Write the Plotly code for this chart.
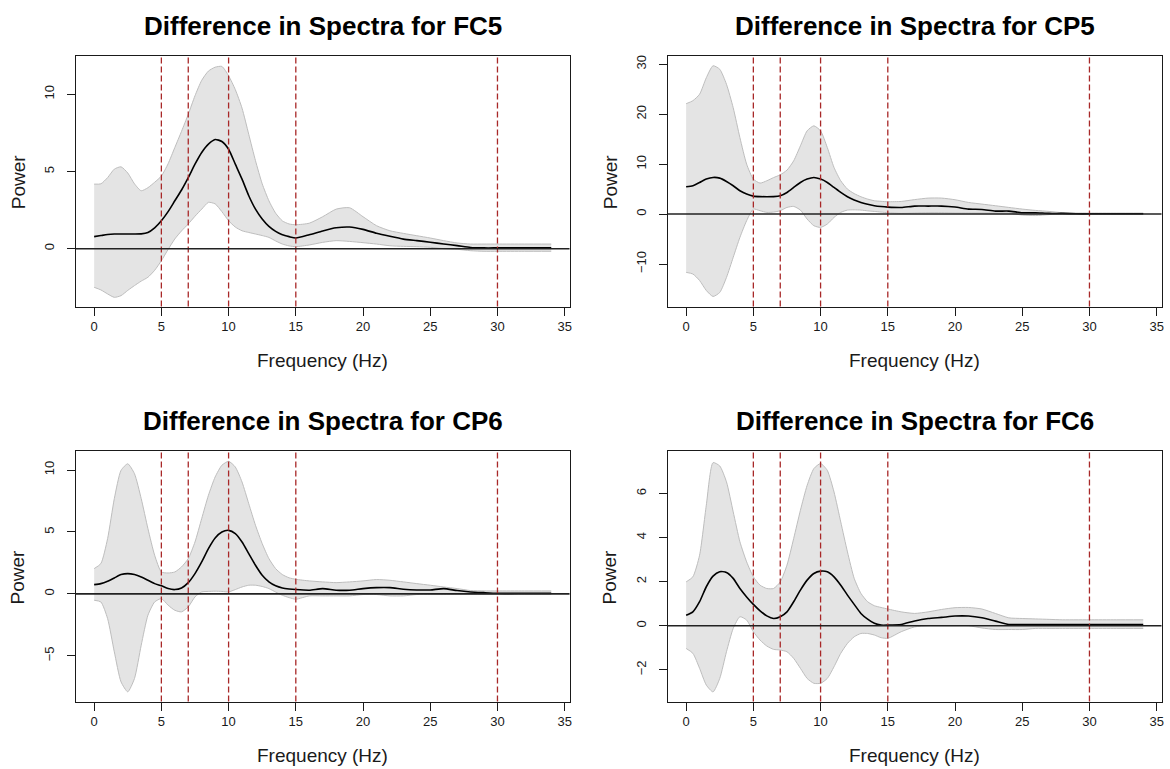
import plotly.graph_objects as go

# Frequency grid (Hz) shared by all channels
FREQ = [0, 0.5, 1, 1.5, 2, 2.5, 3, 3.5, 4, 4.5,
        5, 5.5, 6, 6.5, 7, 7.5, 8, 8.5, 9, 9.5,
        10, 10.5, 11, 11.5, 12, 12.5, 13, 13.5, 14, 14.5,
        15, 16, 17, 18, 19, 20, 21, 22, 23, 24,
        25, 26, 27, 28, 29, 30, 32, 34]

# ---- FC5 ----
FC5_MEAN = [0.78, 0.85, 0.92, 0.95, 0.95, 0.95, 0.95, 0.96, 1.05, 1.35,
            1.81, 2.4, 3.1, 3.8, 4.6, 5.47, 6.23, 6.77, 7.07, 6.94,
            6.44, 5.47, 4.5, 3.43, 2.56, 1.92, 1.44, 1.12, 0.9, 0.78,
            0.69, 0.9, 1.15, 1.35, 1.4, 1.25, 1.0, 0.8, 0.62, 0.52,
            0.42, 0.3, 0.2, 0.08, 0.05, 0.05, 0.05, 0.05]
FC5_UPPER = [4.18, 4.2, 4.6, 5.15, 5.3, 4.9, 4.2, 3.75, 3.95, 4.3,
             4.7, 5.5, 6.55, 7.6, 8.7, 9.9, 10.9, 11.5, 11.75, 11.8,
             11.2, 10.3, 9.1, 7.4, 5.7, 4.2, 3.1, 2.3, 1.8, 1.6,
             1.55, 1.65, 2.07, 2.56, 2.65, 2.07, 1.49, 1.16, 0.99, 0.84,
             0.69, 0.52, 0.37, 0.3, 0.3, 0.3, 0.3, 0.3]
FC5_LOWER = [-2.5, -2.67, -2.93, -3.15, -3.04, -2.7, -2.39, -2.1, -1.85, -1.4,
             -0.78, -0.05, 0.63, 1.15, 1.6, 2.1, 2.56, 3.0, 2.9, 2.4,
             1.81, 1.4, 1.16, 1.05, 0.95, 0.85, 0.73, 0.5, 0.3, 0.18,
             0.13, 0.24, 0.41, 0.52, 0.47, 0.39, 0.3, 0.19, 0.15, 0.13,
             0.09, 0.0, -0.04, -0.13, -0.17, -0.17, -0.17, -0.17]

# ---- CP5 ----
CP5_MEAN = [5.47, 5.67, 6.33, 7.0, 7.33, 7.2, 6.53, 5.67, 4.67, 4.0,
            3.6, 3.5, 3.47, 3.5, 3.67, 4.33, 5.33, 6.33, 7.0, 7.33,
            7.0, 6.33, 5.33, 4.33, 3.47, 2.8, 2.33, 1.95, 1.67, 1.5,
            1.4, 1.33, 1.6, 1.6, 1.6, 1.4, 1.0, 0.93, 0.6, 0.6,
            0.27, 0.27, 0.13, 0.13, 0.05, 0.05, 0.05, 0.05]
CP5_UPPER = [22.1, 22.7, 24.0, 27.3, 29.7, 29.0, 26.0, 21.3, 15.3, 10.0,
             7.0, 6.2, 6.67, 7.3, 7.87, 8.8, 10.67, 13.67, 16.67, 17.67,
             16.67, 13.33, 9.33, 6.67, 5.0, 4.1, 3.47, 3.0, 2.67, 2.55,
             2.47, 2.53, 2.9, 3.2, 3.2, 2.87, 2.33, 2.0, 1.67, 1.33,
             1.0, 0.73, 0.53, 0.27, 0.2, 0.2, 0.2, 0.2]
CP5_LOWER = [-11.67, -12.0, -13.3, -15.3, -16.5, -15.7, -12.7, -8.67, -4.67, -1.33,
             1.0, 0.67, 0.33, 0.4, 0.67, 1.33, 1.53, 0.8, -1.0, -2.33,
             -2.67, -2.0, -0.67, 0.33, 0.8, 0.85, 0.8, 0.65, 0.53, 0.4,
             0.27, 0.13, 0.2, 0.27, 0.27, 0.2, 0.2, 0.2, 0.2, 0.2,
             -0.2, -0.3, -0.1, 0.0, 0.0, 0.0, 0.0, 0.0]

# ---- CP6 ----
CP6_MEAN = [0.75, 0.83, 1.02, 1.29, 1.56, 1.64, 1.56, 1.37, 1.1, 0.83,
            0.65, 0.43, 0.35, 0.48, 0.91, 1.64, 2.58, 3.66, 4.52, 5.0,
            5.13, 4.87, 4.19, 3.25, 2.31, 1.5, 0.97, 0.65, 0.48, 0.4,
            0.35, 0.3, 0.43, 0.3, 0.3, 0.43, 0.51, 0.51, 0.38, 0.32,
            0.32, 0.43, 0.27, 0.16, 0.1, 0.05, 0.05, 0.05]
CP6_UPPER = [2.04, 2.45, 4.46, 7.69, 9.97, 10.5, 9.7, 7.69, 5.27, 3.12,
             1.77, 1.69, 1.77, 2.18, 2.85, 4.19, 6.08, 7.96, 9.44, 10.38,
             10.7, 10.24, 9.03, 7.28, 5.54, 4.06, 2.85, 2.04, 1.56, 1.3,
             1.18, 1.05, 0.97, 0.91, 0.97, 1.05, 1.16, 1.1, 0.97, 0.83,
             0.7, 0.56, 0.43, 0.27, 0.24, 0.24, 0.24, 0.24]
CP6_LOWER = [-0.51, -0.65, -1.99, -4.68, -7.1, -7.9, -6.83, -4.14, -1.72, -0.65,
             -0.38, -0.91, -1.32, -1.45, -1.05, -0.24, 0.16, 0.2, 0.22, 0.2,
             0.16, 0.35, 0.56, 0.7, 0.7, 0.6, 0.43, 0.15, -0.11, -0.3,
             -0.43, -0.16, -0.16, -0.16, -0.16, -0.05, -0.05, -0.16, -0.16, -0.05,
             -0.05, -0.05, -0.03, -0.03, -0.03, -0.03, -0.03, -0.03]

# ---- FC6 ----
FC6_MEAN = [0.48, 0.63, 1.09, 1.77, 2.25, 2.45, 2.42, 2.15, 1.69, 1.31,
            0.97, 0.68, 0.45, 0.33, 0.41, 0.63, 1.09, 1.62, 2.07, 2.37,
            2.48, 2.45, 2.22, 1.84, 1.39, 0.97, 0.56, 0.3, 0.11, 0.03,
            0.03, 0.06, 0.22, 0.33, 0.38, 0.44, 0.44, 0.36, 0.21, 0.06,
            0.06, 0.06, 0.06, 0.06, 0.06, 0.06, 0.06, 0.06]
FC6_UPPER = [1.99, 2.22, 3.2, 5.47, 7.4, 7.25, 6.53, 5.17, 3.81, 2.9,
             2.22, 1.84, 1.69, 1.69, 1.99, 2.75, 3.96, 5.24, 6.37, 7.13,
             7.36, 7.05, 6.07, 4.71, 3.35, 2.15, 1.47, 1.09, 0.91, 0.83,
             0.76, 0.63, 0.56, 0.63, 0.74, 0.82, 0.83, 0.76, 0.56, 0.36,
             0.33, 0.31, 0.29, 0.27, 0.27, 0.27, 0.27, 0.27]
FC6_LOWER = [-1.03, -1.25, -1.93, -2.69, -3.0, -2.39, -1.18, -0.12, 0.41, 0.26,
             -0.27, -0.65, -0.92, -1.07, -1.1, -1.18, -1.48, -1.93, -2.39, -2.61,
             -2.61, -2.39, -1.86, -1.25, -0.8, -0.5, -0.35, -0.35, -0.42, -0.54,
             -0.57, -0.27, -0.05, 0.0, 0.0, 0.0, 0.0, -0.1, -0.17, -0.17,
             -0.17, -0.12, -0.12, -0.12, -0.12, -0.12, -0.12, -0.12]

CHANNELS = ["FC5", "CP5", "CP6", "FC6"]
MEANS = [FC5_MEAN, CP5_MEAN, CP6_MEAN, FC6_MEAN]
UPPERS = [FC5_UPPER, CP5_UPPER, CP6_UPPER, FC6_UPPER]
LOWERS = [FC5_LOWER, CP5_LOWER, CP6_LOWER, FC6_LOWER]

# Frequency band boundaries marked on each panel
BAND_EDGES = [5, 7, 10, 15, 30]
X_TICKS = [0, 5, 10, 15, 20, 25, 30, 35]
Y_TICKS = [[0, 5, 10], [-10, 0, 10, 20, 30], [-5, 0, 5, 10], [-2, 0, 2, 4, 6]]
Y_RANGES = [[-3.75, 12.48], [-18.53, 31.67], [-8.69, 11.5], [-3.44, 7.91]]
X_RANGE = [-1.36, 35.36]

W, H = 1170, 769
# plot boxes in pixels: (left, right, top, bottom)
BOXES = [(76, 570.5, 55, 306), (669, 1163.5, 55, 306),
         (76, 570.5, 451, 701.5), (669, 1163.5, 451, 701.5)]

FONT = "Liberation Sans, Arial, sans-serif"
INK = "#1a1a1a"
BAND_FILL = "#E4E4E4"
BAND_EDGE = "#BDBDBD"
DASH_RED = "#A82828"

fig = go.Figure()
shapes = []
annotations = []

for i, ch in enumerate(CHANNELS):
    n = i + 1
    xa = "x" if n == 1 else f"x{n}"
    ya = "y" if n == 1 else f"y{n}"
    # upper edge of the interval
    fig.add_trace(go.Scatter(
        x=FREQ, y=UPPERS[i], mode="lines", xaxis=xa, yaxis=ya,
        line=dict(color=BAND_EDGE, width=1, shape="spline", smoothing=0.6),
        hoverinfo="skip", showlegend=False))
    # lower edge, filled up to the upper edge
    fig.add_trace(go.Scatter(
        x=FREQ, y=LOWERS[i], mode="lines", xaxis=xa, yaxis=ya,
        fill="tonexty", fillcolor=BAND_FILL,
        line=dict(color=BAND_EDGE, width=1, shape="spline", smoothing=0.6),
        hoverinfo="skip", showlegend=False))
    # mean difference
    fig.add_trace(go.Scatter(
        x=FREQ, y=MEANS[i], mode="lines", xaxis=xa, yaxis=ya,
        line=dict(color="black", width=1.6, shape="spline", smoothing=0.6),
        showlegend=False))

    left, right, top, bottom = BOXES[i]
    xdom = [left / W, right / W]
    ydom = [1 - bottom / H, 1 - top / H]
    axis_common = dict(
        showgrid=False, zeroline=False, showline=True, mirror=True,
        linecolor=INK, linewidth=1, ticks="outside", ticklen=8,
        tickcolor=INK, tickwidth=1,
        tickfont=dict(family=FONT, size=13, color=INK))
    fig.update_layout(**{
        ("xaxis" if n == 1 else f"xaxis{n}"): dict(
            domain=xdom, range=X_RANGE, tickvals=X_TICKS,
            anchor=ya, **axis_common),
        ("yaxis" if n == 1 else f"yaxis{n}"): dict(
            domain=ydom, range=Y_RANGES[i], tickvals=Y_TICKS[i],
            tickangle=-90, anchor=xa, ticklabelstandoff=8, **axis_common),
    })

    # vertical dashed band edges
    for edge in BAND_EDGES:
        shapes.append(dict(
            type="line", xref=xa, yref=f"{ya} domain",
            x0=edge, x1=edge, y0=0, y1=1,
            line=dict(color=DASH_RED, width=1.3, dash="6px,3px")))
    # zero reference line across the whole panel
    shapes.append(dict(
        type="line", xref=f"{xa} domain", yref=ya,
        x0=0, x1=1, y0=0, y1=0,
        line=dict(color="#222222", width=1.6)))

    cx = (left + right) / 2 / W
    title_y = top - 30
    annotations.append(dict(
        text=f"<b>Difference in Spectra for {ch}</b>",
        xref="paper", yref="paper", x=cx, y=1 - title_y / H,
        xanchor="center", yanchor="middle", showarrow=False,
        font=dict(family=FONT, size=26, color="black")))
    annotations.append(dict(
        text="Frequency (Hz)", xref="paper", yref="paper",
        x=cx, y=1 - (bottom + 54) / H,
        xanchor="center", yanchor="middle", showarrow=False,
        font=dict(family=FONT, size=19, color=INK)))
    annotations.append(dict(
        text="Power", xref="paper", yref="paper",
        x=(left - 58) / W, y=1 - (top + bottom) / 2 / H,
        xanchor="center", yanchor="middle", showarrow=False, textangle=-90,
        font=dict(family=FONT, size=19, color=INK)))

fig.update_layout(
    width=W, height=H,
    margin=dict(l=0, r=0, t=0, b=0),
    paper_bgcolor="white", plot_bgcolor="white",
    showlegend=False,
    shapes=shapes, annotations=annotations,
)

fig.write_html("out.html")
